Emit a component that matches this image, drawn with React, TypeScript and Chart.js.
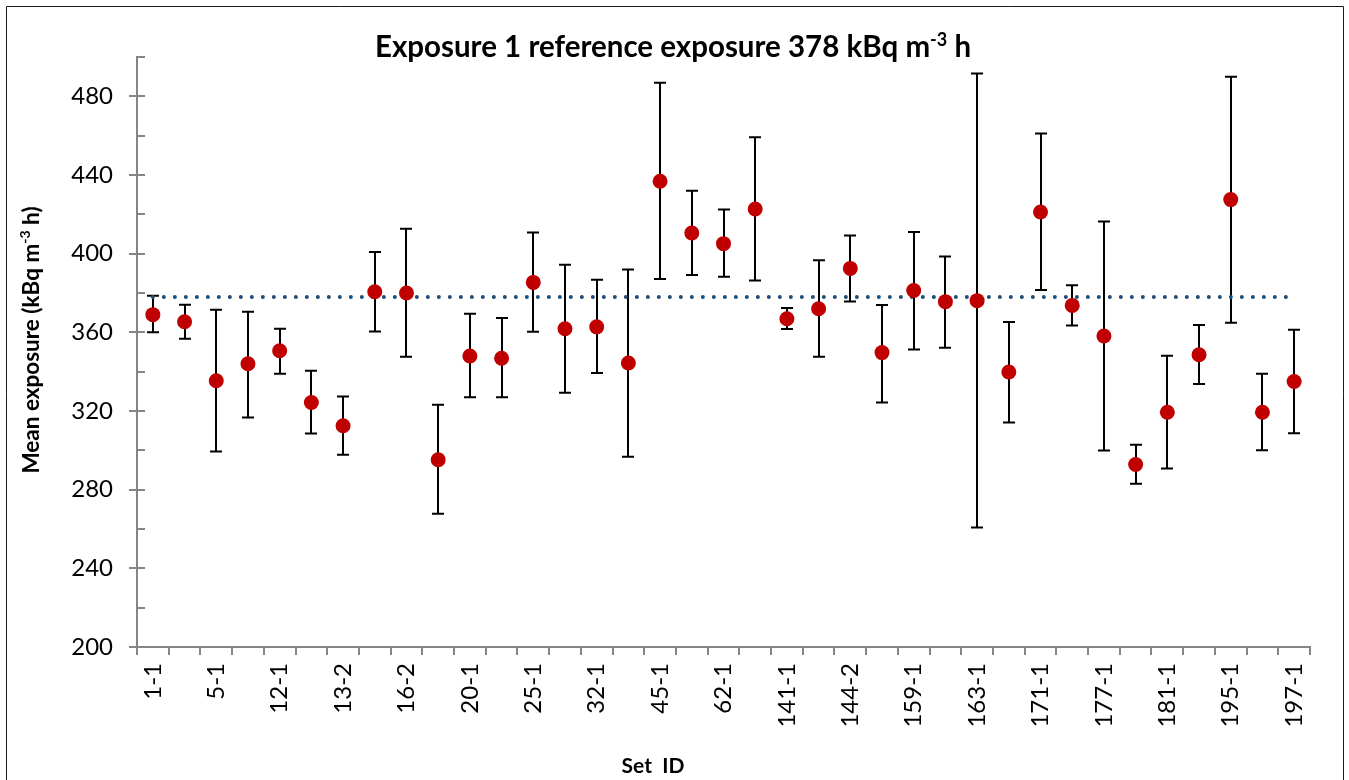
import React, { useEffect, useRef } from "react";
import { Chart, registerables } from "chart.js";

Chart.register(...registerables);

const setIds = [
  "1-1", "2-1", "5-1", "7-1", "12-1", "13-1", "13-2", "14-1", "16-2", "17-1",
  "20-1", "22-1", "25-1", "28-1", "32-1", "39-1", "45-1", "55-1", "62-1", "139-1",
  "141-1", "144-1", "144-2", "152-1", "159-1", "161-1", "163-1", "166-1", "171-1", "175-1",
  "177-1", "178-1", "181-1", "185-1", "195-1", "196-1", "197-1",
];
const meanValues = [
  369, 365.4, 335.4, 344, 350.6, 324.3, 312.5, 380.6, 380, 295.2,
  348, 346.8, 385.4, 361.8, 362.8, 344.4, 436.8, 410.5, 405.1, 422.7,
  366.9, 372, 392.5, 349.7, 381.3, 375.6, 376.1, 339.8, 421.2, 373.7,
  358.1, 292.8, 319.4, 348.6, 427.5, 319.4, 335,
];
const upperValues = [
  378.6, 374, 371.5, 370.5, 361.8, 340.5, 327.4, 400.9, 412.7, 323.2,
  369.5, 367.3, 410.8, 394.4, 386.8, 391.9, 486.9, 432, 422.4, 459.2,
  372.4, 396.6, 409.2, 373.9, 411, 398.6, 491.6, 365.3, 461.1, 383.9,
  416.3, 302.8, 348.1, 363.7, 490, 338.9, 361.3,
];
const lowerValues = [
  360, 356.7, 299.4, 316.7, 338.9, 308.5, 297.7, 360.4, 347.6, 267.7,
  327, 327, 360.3, 329.3, 339.3, 296.8, 387.1, 389.2, 388.3, 386.3,
  361.7, 347.6, 375.7, 324.3, 351.3, 352.2, 260.7, 314.1, 381.5, 363.5,
  299.9, 283, 290.7, 333.7, 364.9, 300, 308.7,
];
const referenceValue = 378;
const yMin = 200;
const yMax = 500;
const yLabelStep = 40;
const yMinorStep = 20;

const FONT = "Lato, 'Open Sans', sans-serif";
const GRAY = "#868686";

type Part = { t: string; sup?: boolean };

function richWidth(ctx: CanvasRenderingContext2D, parts: Part[], size: number) {
  let total = 0;
  for (const p of parts) {
    ctx.font = `bold ${p.sup ? Math.round(size * 0.62) : size}px ${FONT}`;
    total += ctx.measureText(p.t).width;
  }
  return total;
}

function drawRichFit(ctx: CanvasRenderingContext2D, parts: Part[], targetWidth: number, cx: number, baseline: number) {
  const base = 20;
  const size = Math.round((base * targetWidth) / richWidth(ctx, parts, base) * 2) / 2;
  const total = richWidth(ctx, parts, size);
  let x = cx - total / 2;
  ctx.textAlign = "left";
  ctx.textBaseline = "alphabetic";
  for (const p of parts) {
    ctx.font = `bold ${p.sup ? Math.round(size * 0.62) : size}px ${FONT}`;
    ctx.fillText(p.t, x, p.sup ? baseline - size * 0.38 : baseline);
    x += ctx.measureText(p.t).width;
  }
}

const decorPlugin = {
  id: "decor",
  beforeDraw(chart: any) {
    const ctx = chart.ctx as CanvasRenderingContext2D;
    ctx.save();
    ctx.fillStyle = "#ffffff";
    ctx.fillRect(0, 0, chart.width, chart.height);
    ctx.strokeStyle = "#1a1a1a";
    ctx.lineWidth = 1;
    ctx.beginPath();
    ctx.moveTo(6.5, chart.height + 2);
    ctx.lineTo(6.5, 6.5);
    ctx.lineTo(1343.5, 6.5);
    ctx.lineTo(1343.5, chart.height + 2);
    ctx.stroke();
    ctx.restore();
  },
  afterDraw(chart: any) {
    const ctx = chart.ctx as CanvasRenderingContext2D;
    const y = chart.scales.y;
    const area = chart.chartArea;
    ctx.save();
    ctx.strokeStyle = GRAY;
    ctx.lineWidth = 2;
    for (let v = yMin; v <= yMax; v += yMinorStep) {
      const py = Math.round(y.getPixelForValue(v));
      const major = (v - yMin) % yLabelStep === 0;
      ctx.beginPath();
      ctx.moveTo(major ? area.left - 8 : area.left, py);
      ctx.lineTo(area.left + 8, py);
      ctx.stroke();
    }
    ctx.fillStyle = "#000000";
    drawRichFit(ctx, [{ t: "Exposure 1 reference exposure 378 kBq m" }, { t: "-3", sup: true }, { t: " h" }], 593, 673, 57);
    ctx.save();
    ctx.translate(39, 340);
    ctx.rotate(-Math.PI / 2);
    drawRichFit(ctx, [{ t: "Mean exposure (kBq m" }, { t: "-3", sup: true }, { t: " h)" }], 266, 0, 0);
    ctx.restore();
    drawRichFit(ctx, [{ t: "Set  ID" }], 63, 653, 773);
    ctx.restore();
  },
};

const errorBarPlugin = {
  id: "errorBars",
  beforeDatasetsDraw(chart: any) {
    const ctx = chart.ctx as CanvasRenderingContext2D;
    const x = chart.scales.x;
    const y = chart.scales.y;
    ctx.save();
    ctx.strokeStyle = "#000000";
    ctx.lineWidth = 2;
    for (let i = 0; i < meanValues.length; i++) {
      const px = Math.round(x.getPixelForValue(i));
      const top = y.getPixelForValue(upperValues[i]);
      const bot = y.getPixelForValue(lowerValues[i]);
      ctx.beginPath();
      ctx.moveTo(px, top);
      ctx.lineTo(px, bot);
      ctx.moveTo(px - 6, top);
      ctx.lineTo(px + 6, top);
      ctx.moveTo(px - 6, bot);
      ctx.lineTo(px + 6, bot);
      ctx.stroke();
    }
    ctx.restore();
  },
};

export default function App() {
  const ref = useRef<HTMLCanvasElement | null>(null);
  useEffect(() => {
    if (!ref.current) return;
    const chart = new Chart(ref.current, {
      type: "line",
      data: {
        labels: setIds,
        datasets: [
          {
            label: "Mean exposure",
            data: meanValues,
            showLine: false,
            pointRadius: 7.5,
            pointBackgroundColor: "#C00000",
            pointBorderColor: "#C00000",
            pointBorderWidth: 0,
            borderColor: "#C00000",
            backgroundColor: "#C00000",
          },
          {
            label: "Reference",
            data: setIds.map(() => referenceValue),
            borderColor: "#1F4E79",
            borderWidth: 4,
            borderDash: [0, 11],
            borderCapStyle: "round",
            pointRadius: 0,
            fill: false,
          },
        ],
      },
      options: {
        responsive: false,
        devicePixelRatio: 1,
        animation: false,
        layout: { padding: { left: 0, top: 57, right: 39, bottom: 0 } },
        plugins: { legend: { display: false }, tooltip: { enabled: false }, title: { display: false } },
        scales: {
          x: {
            type: "category",
            offset: true,
            grid: { offset: true, drawOnChartArea: false, color: GRAY, lineWidth: 2, tickLength: 8 },
            border: { color: GRAY, width: 2 },
            ticks: {
              autoSkip: false,
              maxRotation: 90,
              minRotation: 90,
              padding: 8,
              color: "#000000",
              font: { family: FONT, size: 24 },
              callback: (_v: any, i: number) => (i % 2 === 0 ? setIds[i] : ""),
            },
            afterFit: (s: any) => { s.height = 133; },
          },
          y: {
            min: yMin,
            max: yMax,
            grid: { display: true, drawOnChartArea: false, drawTicks: false, color: GRAY },
            border: { color: GRAY, width: 2 },
            ticks: {
              stepSize: yMinorStep,
              padding: 24,
              color: "#000000",
              font: { family: FONT, size: 24 },
              callback: (v: any) => ((Number(v) - yMin) % yLabelStep === 0 ? String(v) : ""),
            },
            afterFit: (s: any) => { s.width = 137; },
          },
        },
      },
      plugins: [decorPlugin, errorBarPlugin],
    } as any);
    return () => chart.destroy();
  }, []);
  return (
    <div style={{ position: "fixed", left: 0, top: 0, width: 1349, height: 780 }}>
      <canvas ref={ref} width={1349} height={780} style={{ display: "block" }} />
    </div>
  );
}
